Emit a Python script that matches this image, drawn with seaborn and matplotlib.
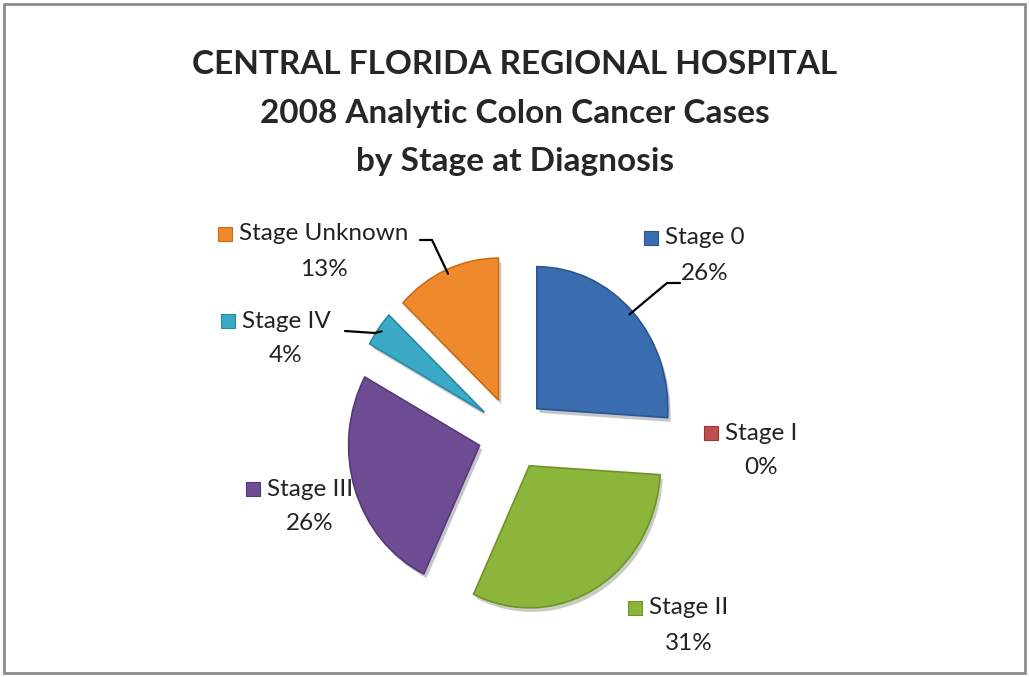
import numpy as np
import matplotlib
matplotlib.use("Agg")
import matplotlib.pyplot as plt
import matplotlib.patheffects as pe
from matplotlib.patches import Rectangle
import seaborn as sns

# data
stages = ["Stage 0", "Stage I", "Stage II", "Stage III", "Stage IV", "Stage Unknown"]
percents = [26, 0, 31, 26, 4, 13]
colors = ["#3A6CB0", "#C0504D", "#8CB53C", "#6E4C94", "#3AAAC6", "#EE8A2C"]
edges = ["#2A5590", "#9A3532", "#6E9428", "#563A78", "#268AA4", "#C86E18"]

sns.set_style("white")
plt.rcParams["font.family"] = ["Lato", "DejaVu Sans"]

W, H = 1029, 677
fig = plt.figure(figsize=(W / 100, H / 100), dpi=100)

# pie axes: slightly squeezed horizontally like the original
pax = fig.add_axes([0, 0, 1, 1])
cx, cy = 512, H - 434          # centre in pixels (bottom origin)
sx, sy = 131, 142              # pixels per radius unit
wedges, _ = pax.pie(percents, colors=colors, startangle=90, counterclock=False,
                    explode=[0.26] * len(percents), radius=1,
                    wedgeprops=dict(linewidth=1.2))
pax.set_aspect("auto")
pax.set_xlim(-cx / sx, (W - cx) / sx)
pax.set_ylim(-cy / sy, (H - cy) / sy)
pax.axis("off")
for w, ec, p in zip(wedges, edges, percents):
    w.set_edgecolor(ec if p > 0 else "none")
    w.set_path_effects([pe.SimplePatchShadow(offset=(2, -3), alpha=0.25), pe.Normal()])

# overlay axes in pixel units for text
ax = fig.add_axes([0, 0, 1, 1])
ax.set_xlim(0, W)
ax.set_ylim(0, H)
ax.axis("off")

# outer frame
fig.patches.append(Rectangle((4 / W, 4 / H), (W - 8) / W, (H - 8) / H, transform=fig.transFigure,
                             fill=False, edgecolor="#8C8C8C", linewidth=2))

# title
ax.text(515, H - 113, "CENTRAL FLORIDA REGIONAL HOSPITAL\n2008 Analytic Colon Cancer Cases\nby Stage at Diagnosis",
        ha="center", va="center", fontsize=24, fontweight="bold", linespacing=1.82)

# label positions (pixel coords, top-left origin): text center x, first line y
label_pos = {
    "Stage 0": (705, 238),
    "Stage I": (761, 433),
    "Stage II": (689, 608),
    "Stage III": (310, 489),
    "Stage IV": (286, 321),
    "Stage Unknown": (324, 234),
}
fig.canvas.draw()
renderer = fig.canvas.get_renderer()
inv = ax.transData.inverted()
for name, pct, col, ec in zip(stages, percents, colors, edges):
    x, y = label_pos[name]
    t = ax.text(x, H - y, name, ha="center", va="center", fontsize=17.5, color="#222222")
    ax.text(x, H - y - 35, f"{pct}%", ha="center", va="center", fontsize=17.5, color="#222222")
    bb = t.get_window_extent(renderer=renderer)
    left = inv.transform((bb.x0, bb.y0))[0]
    ax.scatter([left - 14], [H - y], marker="s", s=110, color=col, edgecolors=ec, linewidths=0.8)

# leader lines from the label to the middle of the slice arc
leaders = {
    "Stage 0": [(680, 283), (667, 283)],
    "Stage IV": [(345, 331), (375, 333)],
    "Stage Unknown": [(420, 240), (432, 240)],
}
for name, pts in leaders.items():
    w = wedges[stages.index(name)]
    mid = np.deg2rad((w.theta1 + w.theta2) / 2)
    ex = w.center[0] + w.r * 0.97 * np.cos(mid)
    ey = w.center[1] + w.r * 0.97 * np.sin(mid)
    # wedge point -> pixels
    px, py = pax.transData.transform((ex, ey))
    px, py = inv.transform((px, py))
    xs = [p[0] for p in pts] + [px]
    ys = [H - p[1] for p in pts] + [py]
    ax.plot(xs, ys, color="black", linewidth=1.6)

fig.savefig("out.png", dpi=100)
